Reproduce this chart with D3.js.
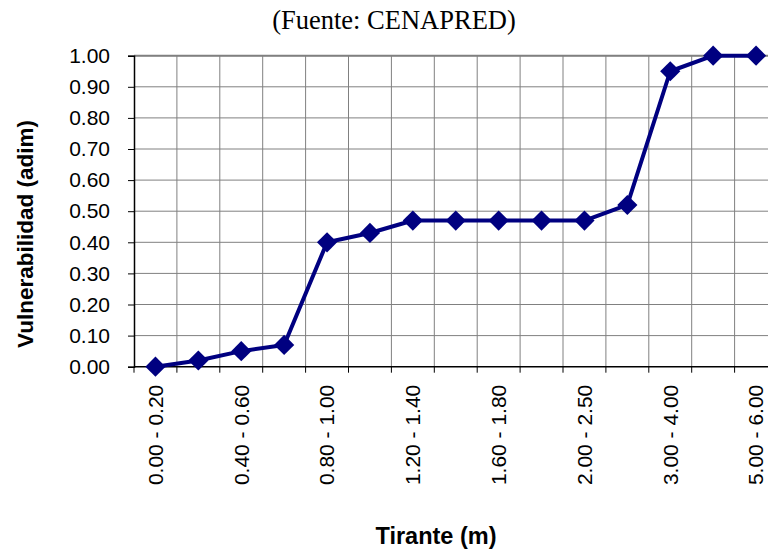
<!DOCTYPE html>
<html>
<head>
<meta charset="utf-8">
<script src="https://cdn.jsdelivr.net/npm/d3@7"></script>
<style>
  body { margin: 0; background: #fff; }
  svg { display: block; overflow: hidden; }
</style>
</head>
<body>
<svg id="chart" width="768" height="549"></svg>
<script>
const categories = ["0.00 - 0.20", "0.20 - 0.40", "0.40 - 0.60", "0.60 - 0.80", "0.80 - 1.00",
    "1.00 - 1.20", "1.20 - 1.40", "1.40 - 1.60", "1.60 - 1.80", "1.80 - 2.00",
    "2.00 - 2.50", "2.50 - 3.00", "3.00 - 4.00", "4.00 - 5.00", "5.00 - 6.00"];
const vulnerability = [0.00, 0.02, 0.05, 0.07, 0.40, 0.43, 0.47, 0.47, 0.47, 0.47, 0.47, 0.52, 0.95, 1.00, 1.00];
const yTicks = [0, 0.1, 0.2, 0.3, 0.4, 0.5, 0.6, 0.7, 0.8, 0.9, 1.0];

const svg = d3.select("#chart");
const margin = { top: 55.7, left: 134 };
const innerWidth = 643.5;   // plot runs past the right edge of the picture
const innerHeight = 311;

const xScale = d3.scaleBand().domain(categories).range([0, innerWidth]);
const yScale = d3.scaleLinear().domain([0, 1]).range([innerHeight, 0]);

const g = svg.append("g").attr("transform", `translate(${margin.left},${margin.top})`);

// category boundaries (Excel puts ticks between categories)
const bounds = categories.map(c => xScale(c)).concat([innerWidth]);

g.selectAll(".vgrid")
    .data(bounds.slice(1))
    .enter().append("line")
    .attr("x1", d => d).attr("x2", d => d)
    .attr("y1", 0).attr("y2", innerHeight)
    .attr("stroke", "#808080").attr("stroke-width", 1);

g.selectAll(".hgrid")
    .data(yTicks.slice(1))
    .enter().append("line")
    .attr("x1", 0).attr("x2", innerWidth)
    .attr("y1", d => yScale(d)).attr("y2", d => yScale(d))
    .attr("stroke", "#808080").attr("stroke-width", 1);

// top border of plot area
g.append("line")
    .attr("x1", 0).attr("x2", innerWidth)
    .attr("y1", 0).attr("y2", 0)
    .attr("stroke", "#808080").attr("stroke-width", 2);

// y axis
const yAxis = g.append("g")
    .call(d3.axisLeft(yScale).tickValues(yTicks).tickFormat(d3.format(".2f")).tickSize(6).tickPadding(18));
yAxis.select(".domain").attr("stroke", "#000").attr("stroke-width", 1.5);
yAxis.selectAll(".tick line").attr("stroke", "#000");
yAxis.selectAll("text")
    .style("font-family", "'Liberation Sans', Arial, sans-serif")
    .style("font-size", "21px")
    .attr("fill", "#000");

// x axis line and boundary ticks
g.append("line")
    .attr("x1", 0).attr("x2", innerWidth)
    .attr("y1", innerHeight).attr("y2", innerHeight)
    .attr("stroke", "#000").attr("stroke-width", 1.5);

g.selectAll(".xtick")
    .data(bounds)
    .enter().append("line")
    .attr("x1", d => d).attr("x2", d => d)
    .attr("y1", innerHeight).attr("y2", innerHeight + 6)
    .attr("stroke", "#000");

// every other category label, rotated
g.selectAll(".xlabel")
    .data(categories.filter((c, i) => i % 2 === 0))
    .enter().append("text")
    .attr("transform", d => `translate(${xScale(d) + xScale.bandwidth() / 2},${innerHeight + 18}) rotate(-90)`)
    .attr("dy", "0.35em")
    .attr("text-anchor", "end")
    .style("font-family", "'Liberation Sans', Arial, sans-serif")
    .style("font-size", "21px")
    .text(d => d);

// line + diamond markers
const line = d3.line()
    .x((d, i) => xScale(categories[i]) + xScale.bandwidth() / 2)
    .y(d => yScale(d));

g.append("path")
    .datum(vulnerability)
    .attr("d", line)
    .attr("fill", "none")
    .attr("stroke", "#000080")
    .attr("stroke-width", 4)
    .attr("stroke-linejoin", "round");

g.selectAll(".marker")
    .data(vulnerability)
    .enter().append("path")
    .attr("d", d3.symbol().type(d3.symbolDiamond2).size(260))
    .attr("transform", (d, i) => `translate(${xScale(categories[i]) + xScale.bandwidth() / 2},${yScale(d)})`)
    .attr("fill", "#000080");

// titles
svg.append("text")
    .attr("x", 394).attr("y", 29)
    .attr("text-anchor", "middle")
    .style("font-family", "'Liberation Serif', 'Times New Roman', serif")
    .style("font-size", "26.5px")
    .text("(Fuente: CENAPRED)");

svg.append("text")
    .attr("transform", "translate(33,234) rotate(-90)")
    .attr("text-anchor", "middle")
    .style("font-family", "'Liberation Sans', Arial, sans-serif")
    .style("font-size", "22.5px")
    .style("font-weight", "bold")
    .text("Vulnerabilidad (adim)");

svg.append("text")
    .attr("x", 436).attr("y", 544)
    .attr("text-anchor", "middle")
    .style("font-family", "'Liberation Sans', Arial, sans-serif")
    .style("font-size", "23.5px")
    .style("font-weight", "bold")
    .text("Tirante (m)");
</script>
</body>
</html>
